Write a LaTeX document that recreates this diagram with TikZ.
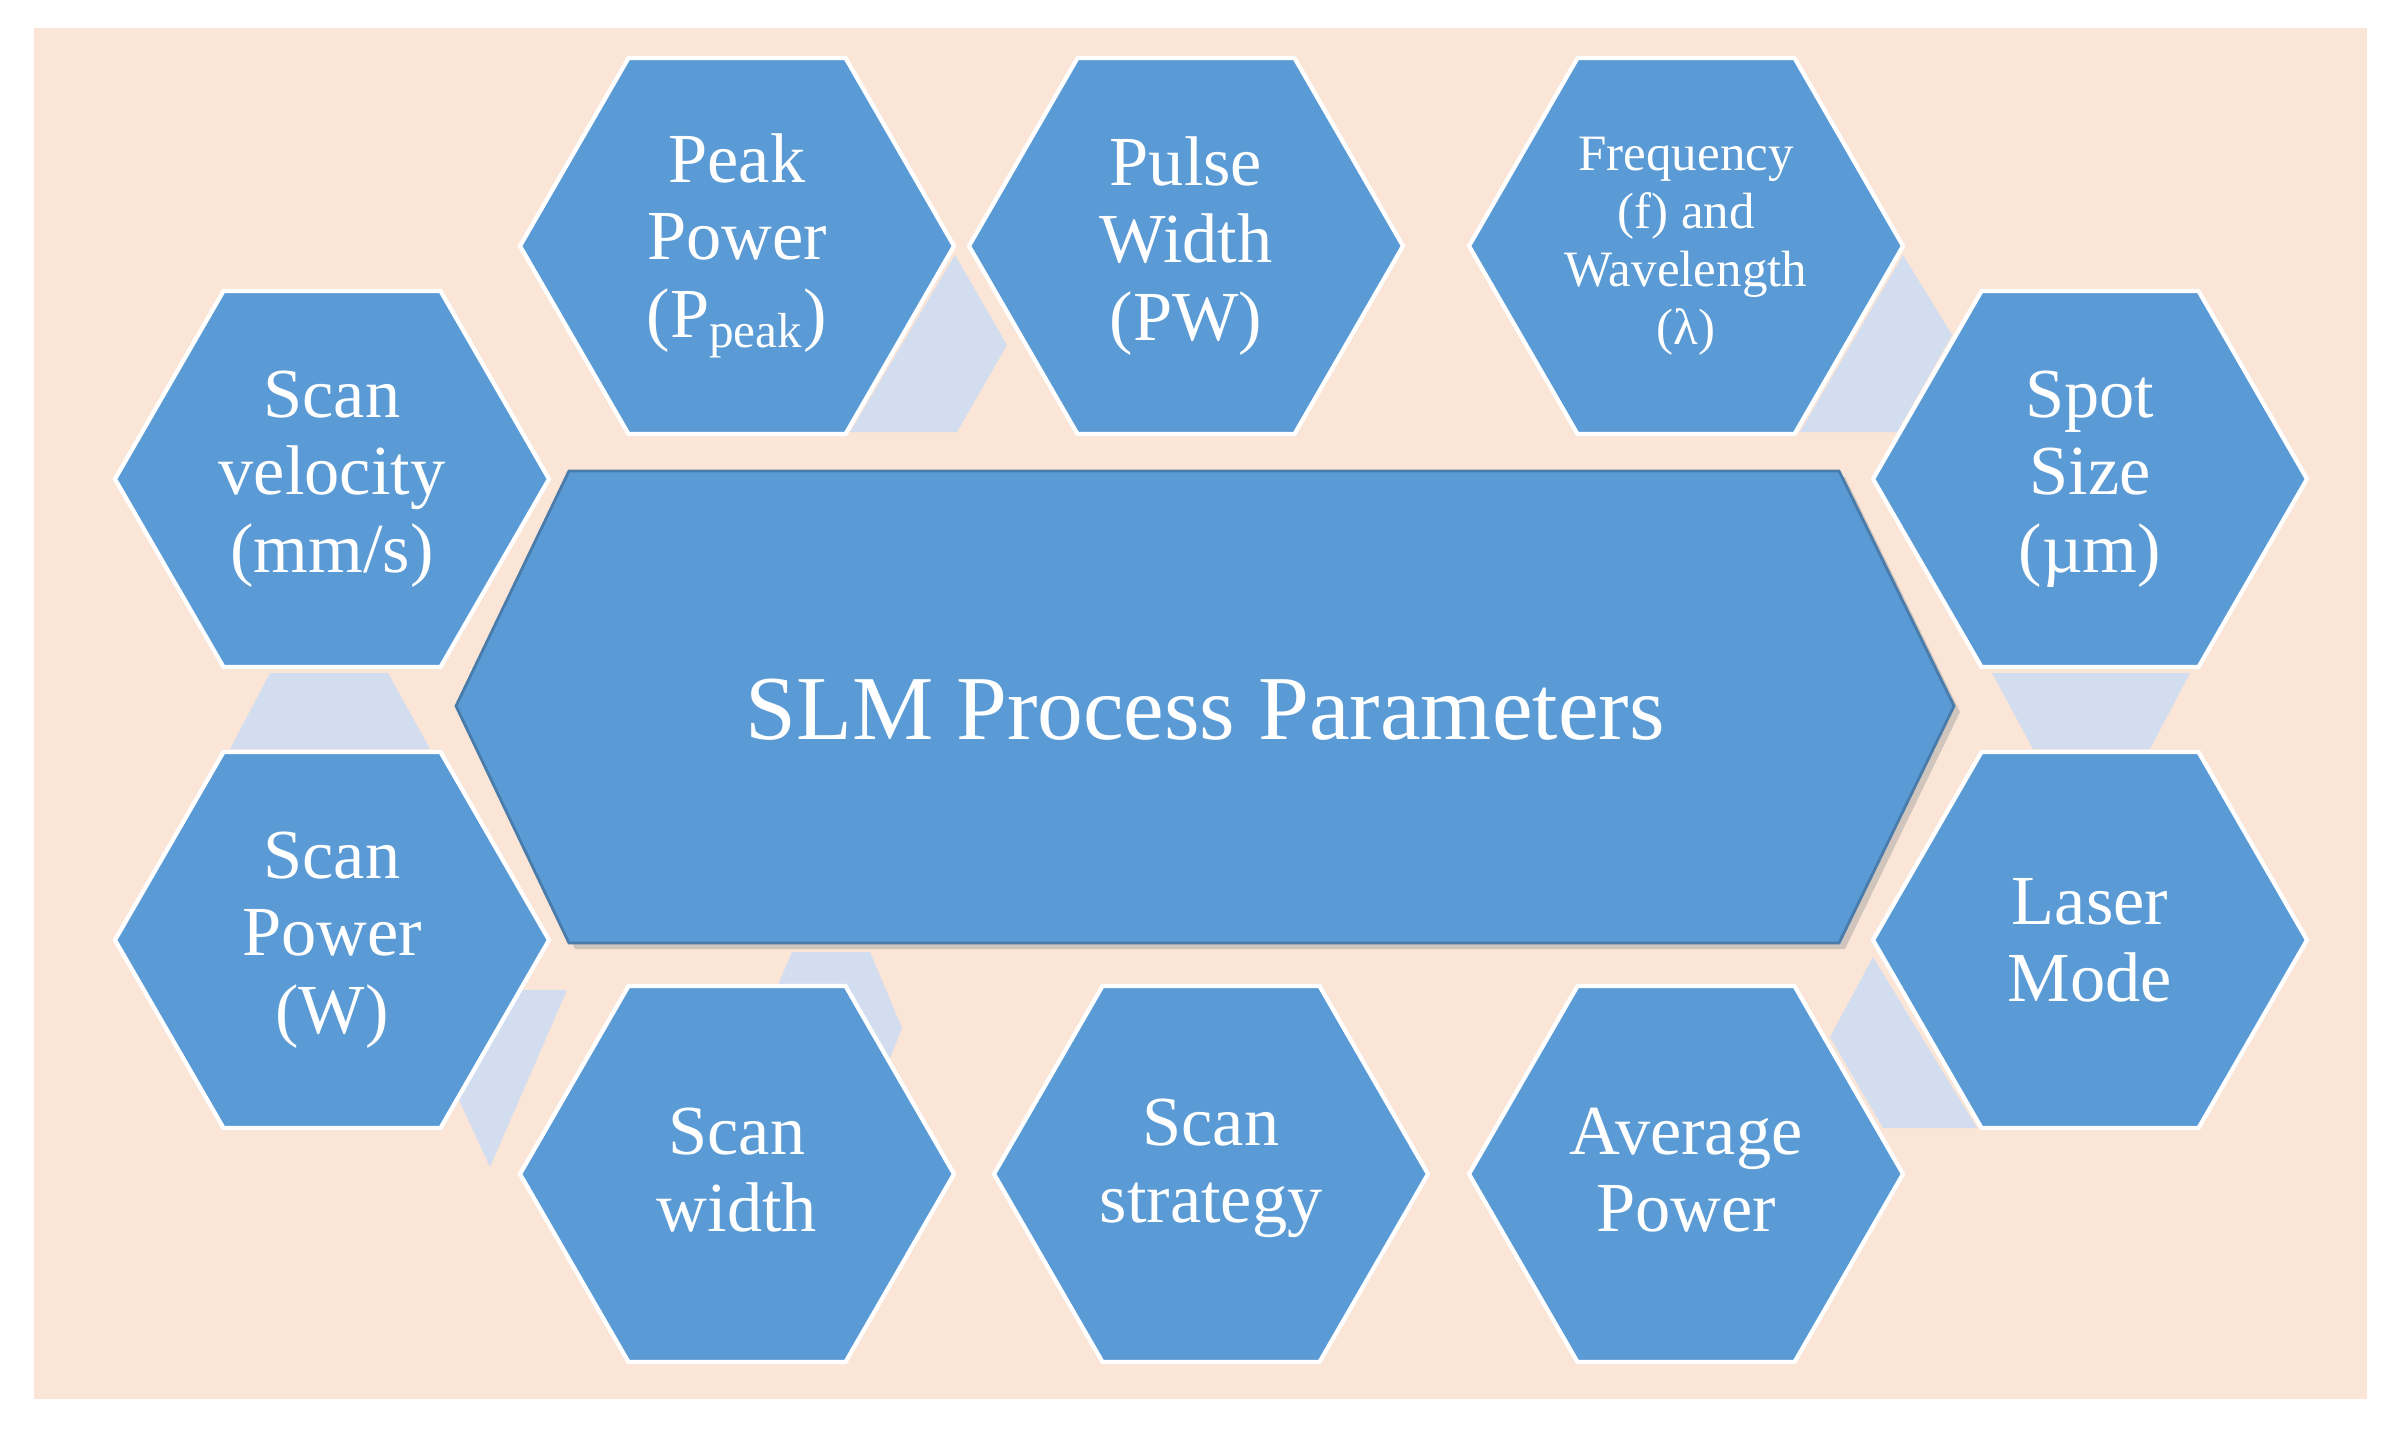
\documentclass[tikz,border=0pt]{standalone}
\usepackage{fontspec}
\setmainfont{Liberation Serif}
\usetikzlibrary{calc}
\begin{document}
\begin{tikzpicture}[x=0.01cm,y=-0.01cm,
  hex/.style={fill=hexblue,draw=white,line width=1.2pt,line join=miter},
  conn/.style={fill=connblue},
  lbl/.style={text=white,align=center,font=\fontsize{20}{22}\selectfont},
  small/.style={text=white,align=center,font=\fontsize{14.5}{16.5}\selectfont}]
\definecolor{hexblue}{HTML}{5B9BD5}
\definecolor{connblue}{HTML}{D2DEEF}
\definecolor{peach}{HTML}{FBE5D6}
\useasboundingbox (0,0) rectangle (2397,1430);
\fill[white] (0,0) rectangle (2397,1430);
\fill[peach] (34,28) rectangle (2367,1399);
\newcommand\hexat[1]{\path[hex] ($(#1)+(-217,0)$) -- ++(108.5,-188) -- ++(217,0) -- ++(108.5,188) -- ++(-108.5,188) -- ++(-217,0) -- cycle;}
% connectors
\fill[conn] (955,255) -- (1007,345) -- (957,432) -- (850,432) -- cycle;
\fill[conn] (1903,255) -- (1952,335) -- (1897,432) -- (1800,432) -- cycle;
\fill[conn] (493,990) -- (567,990) -- (490,1167) -- (453,1087) -- cycle;
\fill[conn] (792,952) -- (870,952) -- (902,1028) -- (862,1128) -- (795,1128) -- (758,1032) -- cycle;
\fill[conn] (270,673) -- (388,673) -- (430,749) -- (230,749) -- cycle;
\fill[conn] (1992,673) -- (2190,673) -- (2150,749) -- (2033,749) -- cycle;
\fill[conn] (1873,957) -- (1830,1037) -- (1883,1128) -- (1977,1128) -- cycle;
% hexagon centres
\coordinate (cpeak) at (737,246);
\coordinate (cpulse) at (1186,246);
\coordinate (cfreq) at (1686,246);
\coordinate (cvel) at (332,479);
\coordinate (cspot) at (2090,479);
\coordinate (cpow) at (332,940);
\coordinate (claser) at (2090,940);
\coordinate (cwidth) at (737,1174);
\coordinate (cstrat) at (1211,1174);
\coordinate (cavg) at (1686,1174);
\foreach \c in {cpeak,cpulse,cfreq,cvel,cspot,cpow,claser,cwidth,cstrat,cavg}{\hexat{\c}}
% centre
\fill[black!35,opacity=0.5] (462,712) -- (575,477) -- (1845,477) -- (1960,712) -- (1845,949) -- (575,949) -- cycle;
\path[fill=hexblue,draw=hexblue!80!black,line width=0.8pt] (456,706) -- (569,471) -- (1839,471) -- (1954,706) -- (1839,943) -- (569,943) -- cycle;
\node[text=white,font=\fontsize{26}{30}\selectfont] (center) at (1205,710) {SLM Process Parameters};
% labels
\node[lbl] (peak) at (cpeak) {Peak\\Power\\(P\textsubscript{peak})};
\node[lbl] (pulse) at (cpulse) {Pulse\\Width\\(PW)};
\node[small] (freq) at (cfreq) {Frequency\\(f) and\\Wavelength\\(λ)};
\node[lbl] (vel) at (cvel) {Scan\\velocity\\(mm/s)};
\node[lbl] (spot) at (cspot) {Spot\\Size\\(µm)};
\node[lbl] (pow) at (cpow) {Scan\\Power\\(W)};
\node[lbl] (laser) at (claser) {Laser\\Mode};
\node[lbl] (width) at ($(cwidth)+(0,-4)$) {Scan\\width};
\node[lbl] (strat) at ($(cstrat)+(0,-6)$) {Scan\\strategy};
\node[lbl] (avg) at ($(cavg)+(0,-4)$) {Average\\Power};
\end{tikzpicture}
\end{document}
